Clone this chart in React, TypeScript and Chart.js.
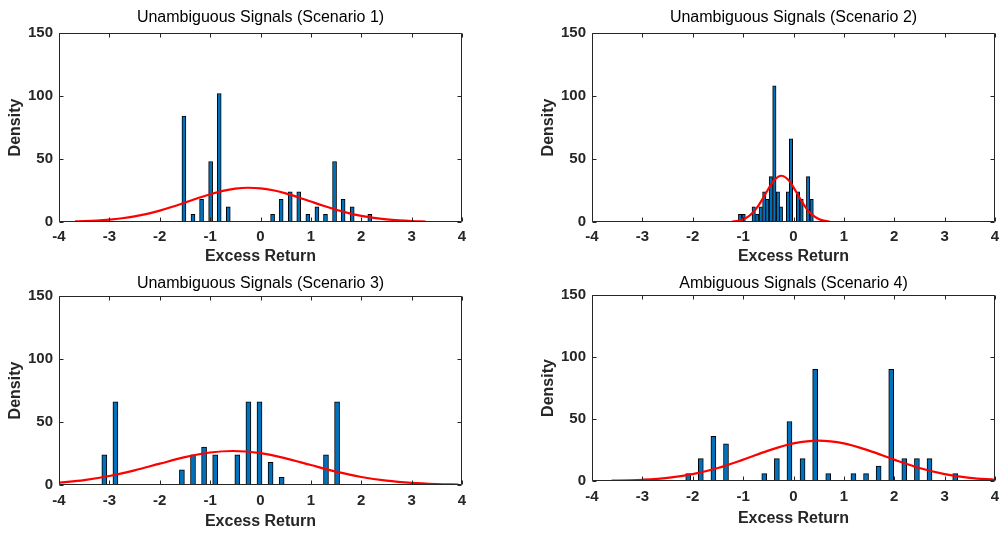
import React, { useEffect, useRef } from 'react';
import { Chart, registerables } from 'chart.js';

Chart.register(...registerables);

// ---------- data ----------
const panelTitles = [
  'Unambiguous Signals (Scenario 1)',
  'Unambiguous Signals (Scenario 2)',
  'Unambiguous Signals (Scenario 3)',
  'Ambiguous Signals (Scenario 4)',
];
const xAxisTitle = 'Excess Return';
const yAxisTitle = 'Density';

const xTickValues = [-4, -3, -2, -1, 0, 1, 2, 3, 4];
const xTickLabels = ['-4', '-3', '-2', '-1', '0', '1', '2', '3', '4'];
const yTickValues = [0, 50, 100, 150];
const yTickLabels = ['0', '50', '100', '150'];

// Scenario 1
const s1BinCenters = [-1.52, -1.34, -1.17, -0.99, -0.82, -0.64, 0.24, 0.41, 0.59, 0.76, 0.94, 1.12, 1.29, 1.47, 1.64, 1.82, 2.17];
const s1Density = [84, 6, 18, 48, 102, 12, 6, 18, 24, 24, 6, 12, 6, 48, 18, 12, 6];
const s1FitX = [-3.68, -3.5, -3.25, -3, -2.75, -2.5, -2.25, -2, -1.75, -1.5, -1.25, -1, -0.75, -0.5, -0.25, 0, 0.25, 0.5, 0.75, 1, 1.25, 1.5, 1.75, 2, 2.25, 2.5, 2.75, 3, 3.28];
const s1FitY = [0.43, 0.65, 1.12, 1.86, 2.95, 4.47, 6.5, 9.05, 12.07, 15.4, 18.82, 22.02, 24.67, 26.47, 27.19, 26.75, 25.19, 22.72, 19.62, 16.22, 12.84, 9.74, 7.07, 4.92, 3.27, 2.08, 1.27, 0.74, 0.39];

// Scenario 2
const s2BinCenters = [-1.06, -0.99, -0.79, -0.72, -0.65, -0.58, -0.52, -0.45, -0.38, -0.31, -0.25, -0.11, -0.05, 0.09, 0.16, 0.29, 0.36];
const s2Density = [6, 6, 12, 6, 12, 24, 18, 36, 108, 24, 12, 24, 66, 24, 18, 36, 18];
const s2FitX = [-1.22, -1.1, -1.0, -0.9, -0.8, -0.7, -0.6, -0.5, -0.4, -0.3, -0.24, -0.2, -0.1, 0, 0.1, 0.2, 0.3, 0.4, 0.5, 0.6, 0.72];
const s2FitY = [0.31, 0.93, 2.07, 4.2, 7.71, 12.81, 19.26, 26.22, 32.31, 36.05, 36.7, 36.41, 33.29, 27.55, 20.65, 14.01, 8.6, 4.78, 2.41, 1.1, 0.37];

// Scenario 3
const s3BinCenters = [-3.1, -2.88, -1.56, -1.34, -1.12, -0.9, -0.46, -0.24, -0.02, 0.2, 0.42, 1.3, 1.52];
const s3Density = [24, 66, 12, 24, 30, 24, 24, 66, 66, 18, 6, 24, 66];
const s3FitX = [-4, -3.5, -3, -2.5, -2, -1.5, -1, -0.55, 0, 0.5, 1, 1.5, 2, 2.5, 3, 3.5, 3.93];
const s3FitY = [1.92, 3.9, 7.12, 11.6, 16.92, 22.09, 25.81, 27, 25.24, 21.13, 15.83, 10.61, 6.36, 3.42, 1.64, 0.71, 0.31];

// Scenario 4
const s4BinCenters = [-2.09, -1.84, -1.59, -1.34, -0.58, -0.33, -0.08, 0.18, 0.43, 0.69, 1.19, 1.44, 1.69, 1.94, 2.2, 2.45, 2.7, 3.21];
const s4Density = [6, 18, 36, 30, 6, 18, 48, 18, 90, 6, 6, 6, 12, 90, 18, 18, 18, 6];
const s4FitX = [-3.61, -3.25, -3, -2.5, -2, -1.5, -1, -0.5, 0, 0.5, 1, 1.5, 2, 2.5, 3, 3.5, 4];
const s4FitY = [0.27, 0.61, 1.02, 2.55, 5.56, 10.49, 17.21, 24.5, 30.28, 32.5, 30.28, 24.5, 17.21, 10.49, 5.56, 2.55, 1.02];

// ---------- styling ----------
const FONT = '"Liberation Sans", Arial, Helvetica, sans-serif';
const AXIS_COLOR = '#262626';
const BAR_COLOR = '#0072BD';

type Layout = {
  left: number; top: number; width: number; height: number;
  yAxisWidth: number; xAxisHeight: number; padRight: number;
  titlePadTop: number; titlePadBottom: number;
  xTickPad: number; xTitlePadBottom: number; barThickness: number;
};

const layouts: Layout[] = [
  { left: 0, top: 0, width: 470, height: 268, yAxisWidth: 59, xAxisHeight: 46, padRight: 8, titlePadTop: 8, titlePadBottom: 6, xTickPad: 6, xTitlePadBottom: 1.5, barThickness: 4 },
  { left: 533, top: 0, width: 468, height: 268, yAxisWidth: 59, xAxisHeight: 46, padRight: 6, titlePadTop: 8, titlePadBottom: 6, xTickPad: 6, xTitlePadBottom: 1.5, barThickness: 3.4 },
  { left: 0, top: 263, width: 470, height: 272, yAxisWidth: 59, xAxisHeight: 50, padRight: 8, titlePadTop: 11.5, titlePadBottom: 2.5, xTickPad: 7, xTitlePadBottom: 4.4, barThickness: 5 },
  { left: 533, top: 263, width: 468, height: 272, yAxisWidth: 59, xAxisHeight: 54, padRight: 6, titlePadTop: 11.5, titlePadBottom: 1.5, xTickPad: 7, xTitlePadBottom: 7.4, barThickness: 5 },
];

const seriesList = [
  { bins: s1BinCenters, dens: s1Density, fx: s1FitX, fy: s1FitY },
  { bins: s2BinCenters, dens: s2Density, fx: s2FitX, fy: s2FitY },
  { bins: s3BinCenters, dens: s3Density, fx: s3FitX, fy: s3FitY },
  { bins: s4BinCenters, dens: s4Density, fx: s4FitX, fy: s4FitY },
];

const boxPlugin = {
  id: 'matlabBox',
  afterDraw(chart: any) {
    const { ctx, chartArea, scales } = chart;
    const { left, right, top, bottom } = chartArea;
    const L = Math.round(left) + 0.5;
    const R = Math.round(right) - 0.5;
    const T = Math.round(top) + 0.5;
    const B = Math.round(bottom) - 0.5;
    ctx.save();
    ctx.strokeStyle = AXIS_COLOR;
    ctx.lineWidth = 1;
    ctx.beginPath();
    ctx.rect(L, T, R - L, B - T);
    const tl = 4;
    xTickValues.forEach((v) => {
      const px = Math.round(scales.x.getPixelForValue(v)) + 0.5;
      ctx.moveTo(px, B); ctx.lineTo(px, B - tl);
      ctx.moveTo(px, T); ctx.lineTo(px, T + tl);
    });
    yTickValues.forEach((v) => {
      const py = Math.round(scales.y.getPixelForValue(v)) + 0.5;
      ctx.moveTo(L, py); ctx.lineTo(L + tl, py);
      ctx.moveTo(R, py); ctx.lineTo(R - tl, py);
    });
    ctx.stroke();
    ctx.restore();
  },
};

function Panel({ idx }: { idx: number }) {
  const ref = useRef<HTMLCanvasElement | null>(null);
  const lay = layouts[idx];
  const s = seriesList[idx];
  useEffect(() => {
    if (!ref.current) return;
    const chart = new Chart(ref.current, {
      type: 'bar',
      data: {
        datasets: [
          {
            type: 'line',
            data: s.fx.map((x, i) => ({ x, y: s.fy[i] })),
            borderColor: '#FF0000',
            borderWidth: 2.2,
            pointRadius: 0,
            fill: false,
            cubicInterpolationMode: 'monotone',
            order: 0,
          } as any,
          {
            type: 'bar',
            data: s.bins.map((x, i) => ({ x, y: s.dens[i] })),
            backgroundColor: BAR_COLOR,
            borderColor: '#000000',
            borderWidth: 1,
            barThickness: lay.barThickness,
            order: 1,
          } as any,
        ],
      },
      options: {
        responsive: false,
        animation: false,
        devicePixelRatio: 1,
        layout: { padding: { left: 0, right: lay.padRight, top: 0, bottom: 0 } },
        plugins: {
          legend: { display: false },
          tooltip: { enabled: false },
          title: {
            display: true,
            text: panelTitles[idx],
            fullSize: false,
            color: '#000000',
            font: { family: FONT, size: 16, weight: 'normal', lineHeight: '19px' },
            padding: { top: lay.titlePadTop, bottom: lay.titlePadBottom },
          },
        },
        scales: {
          x: {
            type: 'linear',
            min: -4,
            max: 4,
            offset: false,
            grid: { display: false, drawTicks: false, offset: false },
            border: { display: false },
            afterBuildTicks: (sc: any) => { sc.ticks = xTickValues.map((v) => ({ value: v })); },
            afterFit: (sc: any) => {
              sc.height = lay.xAxisHeight;
              sc.paddingLeft = 0;
              sc.paddingRight = 0;
            },
            ticks: {
              autoSkip: false,
              maxRotation: 0,
              padding: lay.xTickPad,
              color: AXIS_COLOR,
              font: { family: FONT, size: 15, weight: 'bold', lineHeight: '18px' },
              callback: (v: any) => xTickLabels[xTickValues.indexOf(Number(v))] ?? '',
            },
            title: {
              display: true,
              text: xAxisTitle,
              color: AXIS_COLOR,
              font: { family: FONT, size: 16, weight: 'bold', lineHeight: '19px' },
              padding: { top: 0, bottom: lay.xTitlePadBottom },
            },
          },
          y: {
            type: 'linear',
            min: 0,
            max: 150,
            grid: { display: false, drawTicks: false },
            border: { display: false },
            afterBuildTicks: (sc: any) => { sc.ticks = yTickValues.map((v) => ({ value: v })); },
            afterFit: (sc: any) => {
              sc.width = lay.yAxisWidth;
              sc.paddingTop = 0;
              sc.paddingBottom = 0;
            },
            ticks: {
              padding: 6,
              color: AXIS_COLOR,
              font: { family: FONT, size: 15, weight: 'bold', lineHeight: '18px' },
              callback: (v: any) => yTickLabels[yTickValues.indexOf(Number(v))] ?? '',
            },
            title: {
              display: true,
              text: yAxisTitle,
              color: AXIS_COLOR,
              font: { family: FONT, size: 16, weight: 'bold', lineHeight: '19px' },
              padding: { top: 6, bottom: 0 },
            },
          },
        },
      } as any,
      plugins: [boxPlugin],
    });
    return () => chart.destroy();
  }, []);
  return (
    <canvas
      ref={ref}
      width={lay.width}
      height={lay.height}
      style={{ position: 'absolute', left: lay.left, top: lay.top, width: lay.width, height: lay.height }}
    />
  );
}

export default function App() {
  return (
    <div style={{ position: 'fixed', left: 0, top: 0, width: 1001, height: 535, background: '#ffffff', overflow: 'hidden' }}>
      {[0, 1, 2, 3].map((i) => (
        <Panel key={i} idx={i} />
      ))}
    </div>
  );
}
